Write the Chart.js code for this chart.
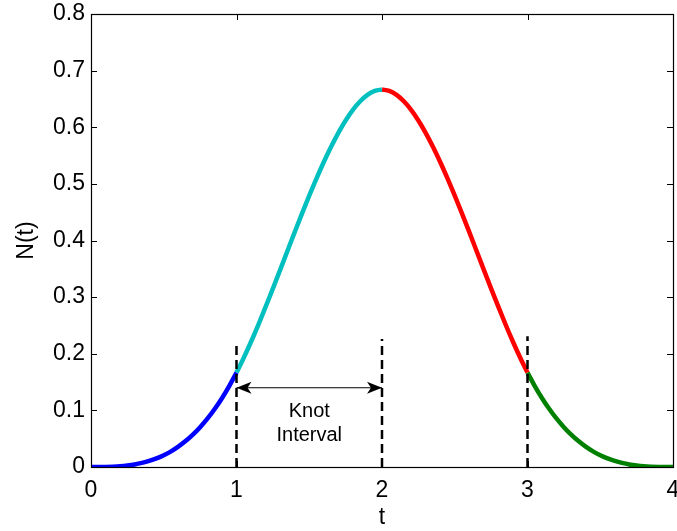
<!DOCTYPE html>
<html>
<head>
<meta charset="utf-8">
<script src="https://cdn.jsdelivr.net/npm/chart.js@4/dist/chart.umd.min.js"></script>
<style>
  html, body { margin: 0; padding: 0; background: #fff; }
  #wrap { width: 677px; height: 531px; }
</style>
</head>
<body>
<div id="wrap"><canvas id="bspline"></canvas></div>
<script>
const t0 = [0, 0.05, 0.1, 0.15, 0.2, 0.25, 0.3, 0.35, 0.4, 0.45, 0.5, 0.55, 0.6, 0.65, 0.7, 0.75, 0.8, 0.85, 0.9, 0.95, 1.0];
const seg0 = [0, 0.00002, 0.0002, 0.0006, 0.0013, 0.0026, 0.0045, 0.0072, 0.0107, 0.0152, 0.0208, 0.0277, 0.036, 0.0458, 0.0572, 0.0703, 0.0853, 0.1024, 0.1215, 0.1429, 0.1667];
const t1 = [1.0, 1.05, 1.1, 1.15, 1.2, 1.25, 1.3, 1.35, 1.4, 1.45, 1.5, 1.55, 1.6, 1.65, 1.7, 1.75, 1.8, 1.85, 1.9, 1.95, 2.0];
const seg1 = [0.1667, 0.1929, 0.2212, 0.2512, 0.2827, 0.3151, 0.3482, 0.3815, 0.4147, 0.4474, 0.4792, 0.5097, 0.5387, 0.5656, 0.5902, 0.612, 0.6307, 0.6459, 0.6572, 0.6642, 0.6667];
const t2 = [2.0, 2.05, 2.1, 2.15, 2.2, 2.25, 2.3, 2.35, 2.4, 2.45, 2.5, 2.55, 2.6, 2.65, 2.7, 2.75, 2.8, 2.85, 2.9, 2.95, 3.0];
const seg2 = [0.6667, 0.6642, 0.6572, 0.6459, 0.6307, 0.612, 0.5902, 0.5656, 0.5387, 0.5097, 0.4792, 0.4474, 0.4147, 0.3815, 0.3482, 0.3151, 0.2827, 0.2512, 0.2212, 0.1929, 0.1667];
const t3 = [3.0, 3.05, 3.1, 3.15, 3.2, 3.25, 3.3, 3.35, 3.4, 3.45, 3.5, 3.55, 3.6, 3.65, 3.7, 3.75, 3.8, 3.85, 3.9, 3.95, 4.0];
const seg3 = [0.1667, 0.1429, 0.1215, 0.1024, 0.0853, 0.0703, 0.0572, 0.0458, 0.036, 0.0277, 0.0208, 0.0152, 0.0107, 0.0072, 0.0045, 0.0026, 0.0013, 0.0006, 0.0002, 0.00002, 0];

// knot markers and annotation
const knots = [1, 2, 3];
const knotTops = [0.221, 0.226, 0.231];
const arrowX = [1, 2];
const arrowY = 0.14;
const noteLines = ["Knot", "Interval"];
const noteX = 1.5;
const noteY = [0.098, 0.056];

const xTicks = [0, 1, 2, 3, 4];
const yTicks = [0, 0.1, 0.2, 0.3, 0.4, 0.5, 0.6, 0.7, 0.8];

const FONT = "'Liberation Sans', Arial, sans-serif";

function pts(xs, ys) {
  return xs.map((x, i) => ({ x: x, y: ys[i] }));
}

function curve(xs, ys, color) {
  return {
    data: pts(xs, ys),
    borderColor: color,
    borderWidth: 4.5,
    pointRadius: 0,
    cubicInterpolationMode: "monotone",
    fill: false,
  };
}

const datasets = [];
knots.forEach((k, i) => {
  datasets.push({
    data: [{ x: k, y: 0 }, { x: k, y: knotTops[i] }],
    borderColor: "#000",
    borderWidth: 2.5,
    borderDash: [9, 5],
    pointRadius: 0,
    fill: false,
  });
});
datasets.push(curve(t0, seg0, "#0000ff"));
datasets.push(curve(t1, seg1, "#00bfbf"));
datasets.push(curve(t2, seg2, "#ff0000"));
datasets.push(curve(t3, seg3, "#008000"));
datasets.push({
  data: [{ x: arrowX[0], y: arrowY }, { x: arrowX[1], y: arrowY }],
  borderColor: "#000",
  borderWidth: 1.2,
  pointRadius: 0,
  fill: false,
});

// frame, inward ticks, arrowheads and the note text
const decorations = {
  id: "decorations",
  afterDatasetsDraw(chart) {
    const ctx = chart.ctx;
    const xs = chart.scales.x;
    const ys = chart.scales.y;
    const a = chart.chartArea;
    ctx.save();

    // arrowheads
    const ay = ys.getPixelForValue(arrowY);
    const ax0 = xs.getPixelForValue(arrowX[0]);
    const ax1 = xs.getPixelForValue(arrowX[1]);
    ctx.fillStyle = "#000";
    [[ax0, 1], [ax1, -1]].forEach(([px, dir]) => {
      ctx.beginPath();
      ctx.moveTo(px + dir * 15, ay - 6);
      ctx.lineTo(px, ay);
      ctx.lineTo(px + dir * 15, ay + 6);
      ctx.lineTo(px + dir * 11, ay);
      ctx.closePath();
      ctx.fill();
    });

    // text
    ctx.font = "20px " + FONT;
    ctx.textAlign = "center";
    ctx.textBaseline = "middle";
    noteLines.forEach((s, i) => {
      ctx.fillText(s, xs.getPixelForValue(noteX), ys.getPixelForValue(noteY[i]));
    });

    // box
    ctx.strokeStyle = "#000";
    ctx.lineWidth = 1.2;
    ctx.strokeRect(Math.round(a.left) + 0.5, Math.round(a.top) + 0.5,
      Math.round(a.right - a.left), Math.round(a.bottom - a.top));

    // ticks inside on all four sides
    ctx.lineWidth = 1;
    ctx.beginPath();
    xTicks.forEach((v) => {
      const px = Math.round(xs.getPixelForValue(v)) + 0.5;
      ctx.moveTo(px, a.bottom);
      ctx.lineTo(px, a.bottom - 6);
      ctx.moveTo(px, a.top);
      ctx.lineTo(px, a.top + 6);
    });
    yTicks.forEach((v) => {
      const py = Math.round(ys.getPixelForValue(v)) + 0.5;
      ctx.moveTo(a.left, py);
      ctx.lineTo(a.left + 6, py);
      ctx.moveTo(a.right, py);
      ctx.lineTo(a.right - 6, py);
    });
    ctx.stroke();
    ctx.restore();
  },
};

new Chart(document.getElementById("bspline"), {
  type: "line",
  data: { datasets },
  plugins: [decorations],
  options: {
    responsive: true,
    maintainAspectRatio: false,
    animation: false,
    layout: { padding: { left: 0, right: 4, top: 14, bottom: 0 } },
    plugins: { legend: { display: false }, tooltip: { enabled: false } },
    scales: {
      x: {
        type: "linear",
        min: 0,
        max: 4,
        afterFit: (s) => { s.height = 64; s.paddingLeft = 0; s.paddingRight = 0; },
        afterBuildTicks: (s) => { s.ticks = xTicks.map((v) => ({ value: v })); },
        grid: { display: false, drawTicks: false },
        border: { display: false },
        ticks: { color: "#000", font: { family: FONT, size: 23 }, padding: 10, maxRotation: 0 },
        title: { display: true, text: "t", color: "#000", font: { family: FONT, size: 23 }, padding: { top: 0, bottom: 0 } },
      },
      y: {
        type: "linear",
        min: 0,
        max: 0.8,
        afterFit: (s) => { s.width = 91; s.paddingTop = 0; s.paddingBottom = 0; },
        afterBuildTicks: (s) => { s.ticks = yTicks.map((v) => ({ value: v })); },
        grid: { display: false, drawTicks: false },
        border: { display: false },
        ticks: {
          color: "#000",
          font: { family: FONT, size: 23 },
          padding: 6,
          callback: (v) => (v === 0 ? "0" : v.toFixed(1)),
        },
        title: { display: true, text: "N(t)", color: "#000", font: { family: FONT, size: 23 }, padding: { top: 13, bottom: 0 } },
      },
    },
  },
});
</script>
</body>
</html>
